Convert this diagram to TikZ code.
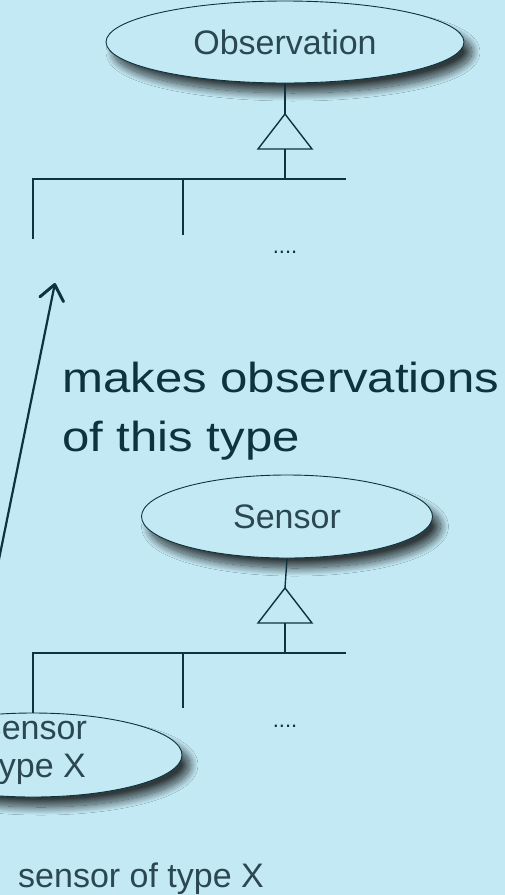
\documentclass[tikz,border=0pt]{standalone}
\usepackage{fontspec}
\setmainfont{Liberation Sans}
\usetikzlibrary{shapes.geometric,arrows.meta,shadows.blur}
\definecolor{bgc}{HTML}{C3E9F4}
\definecolor{ink}{HTML}{0D3340}
\definecolor{lbl}{HTML}{2A4753}
\tikzset{
  cls/.style={ellipse,draw=ink,line width=0.9pt,fill=bgc,inner sep=0pt,
    blur shadow={shadow xshift=8pt,shadow yshift=-10pt,shadow blur radius=8pt,shadow blur steps=24,shadow opacity=75}},
  clstext/.style={text=lbl,font=\fontsize{34}{38}\selectfont,inner sep=0pt,align=center},
  gen/.style={draw=ink,line width=1.4pt},
  dots/.style={text=ink,font=\fontsize{22}{24}\selectfont,inner sep=0pt,anchor=base},
  big/.style={text=ink,font=\fontsize{42}{58}\selectfont,inner sep=0pt,anchor=base west},
  assoc/.style={draw=ink,line width=2.2pt,-{Straight Barb[length=15pt,width=24pt,line width=3pt,line cap=round,line join=round]}}
}
\begin{document}
\begin{tikzpicture}[x=1pt,y=-1pt]
\useasboundingbox (0,0) rectangle (505,895);
\clip (0,0) rectangle (505,895);
\fill[bgc] (0,0) rectangle (505,895);

% Observation hierarchy
\node[cls,minimum width=358pt,minimum height=82pt] (obs) at (285,42) {};
\node[clstext] (obsl) at (obs.center) {Observation};
\coordinate (oapex) at (285,114);
\coordinate (obl) at (258,149);
\coordinate (obr) at (312,149);
\coordinate (obase) at (285,149);
\coordinate (obar) at (285,179);
\coordinate (obarl) at (33,179);
\coordinate (obarr) at (346,179);
\coordinate (oc1) at (33,239);
\coordinate (oc2b) at (183,179);
\coordinate (oc2) at (183,235);
\draw[gen] (obs.south) -- (oapex);
\draw[gen,line join=miter] (oapex) -- (obl) -- (obr) -- cycle;
\draw[gen] (obase) -- (obar);
\draw[gen] (obarr) -- (obarl) -- (oc1);
\draw[gen] (oc2b) -- (oc2);
\node[dots] (odots) at (285,253) {....};

% label
\node[big] (mk1) at (62,392) {\scalebox{1.17}[1]{makes observations}};
\node[big] (mk2) at (62,451) {\scalebox{1.17}[1]{of this type}};

% Sensor hierarchy
\node[cls,minimum width=291pt,minimum height=83pt] (sen) at (287,516.5) {};
\node[clstext] (senl) at (sen.center) {Sensor};
\coordinate (sapex) at (285,588);
\coordinate (sbl) at (258,623);
\coordinate (sbr) at (312,623);
\coordinate (sbase) at (285,623);
\coordinate (sbar) at (285,653);
\coordinate (sbarl) at (33,653);
\coordinate (sbarr) at (346,653);
\coordinate (sc2b) at (183,653);
\coordinate (sc2) at (183,708);
\draw[gen] (sen.south) -- (sapex);
\draw[gen,line join=miter] (sapex) -- (sbl) -- (sbr) -- cycle;
\draw[gen] (sbase) -- (sbar);
\draw[gen] (sc2b) -- (sc2);
\node[dots] (sdots) at (285,727) {....};

\node[cls,minimum width=298pt,minimum height=84pt] (stx) at (33,755) {};
\node[clstext] (stxl) at (33,750) {Sensor\\Type X};
\draw[gen] (sbarr) -- (sbarl) -- (stx.north);

% association arrow
\coordinate (tip) at (55,283);
\draw[assoc] (stx.150) -- (tip);

\node[clstext,anchor=base west] (cap) at (18,887) {sensor of type X};
\end{tikzpicture}
\end{document}
